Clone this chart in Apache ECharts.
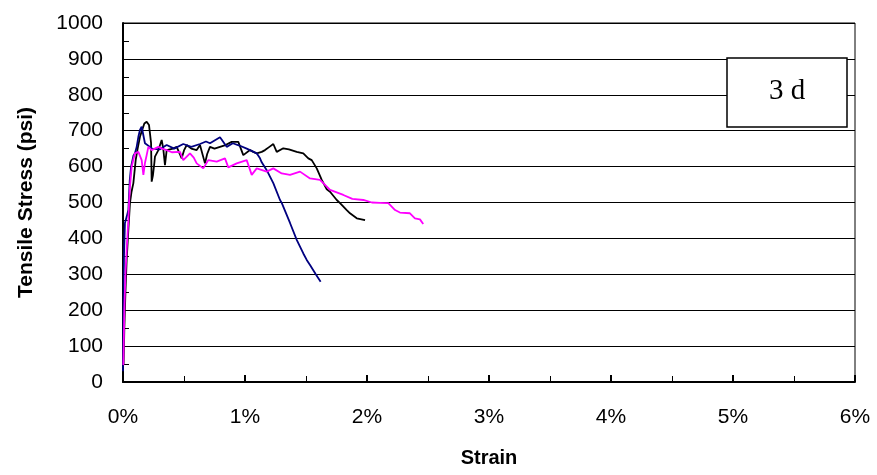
<!DOCTYPE html>
<html>
<head>
<meta charset="utf-8">
<script src="https://cdn.jsdelivr.net/npm/echarts@6/dist/echarts.min.js"></script>
<style>
  html, body { margin: 0; padding: 0; background: #fff; }
  #chart { width: 877px; height: 475px; }
</style>
</head>
<body>
<div id="chart"></div>
<script>
// strain in %, stress in psi
const blackStrain = [0.005, 0.011, 0.02, 0.03, 0.045, 0.057, 0.07, 0.085, 0.104, 0.12, 0.139, 0.16, 0.175, 0.194, 0.213, 0.23, 0.235, 0.245, 0.257, 0.262, 0.29, 0.317, 0.33, 0.344, 0.358, 0.372, 0.41, 0.44, 0.481, 0.5, 0.522, 0.56, 0.604, 0.631, 0.672, 0.69, 0.713, 0.75, 0.795, 0.84, 0.891, 0.945, 0.986, 1.041, 1.068, 1.096, 1.137, 1.164, 1.2, 1.232, 1.26, 1.314, 1.36, 1.424, 1.478, 1.519, 1.547, 1.588, 1.629, 1.67, 1.697, 1.752, 1.779, 1.834, 1.861, 1.916, 1.984]
const blackStress = [50, 150, 250, 340, 430, 498, 530, 554, 618, 650, 683, 705, 720, 725, 716, 666, 558, 575, 610, 628, 646, 674, 650, 604, 646, 641, 650, 655, 623, 645, 660, 650, 646, 660, 609, 635, 655, 650, 655, 660, 669, 669, 632, 646, 641, 637, 641, 646, 655, 663, 641, 651, 648, 641, 637, 623, 618, 595, 563, 537, 530, 507, 498, 479, 470, 456, 451]

const navyStrain = [0.0, 0.003, 0.008, 0.016, 0.03, 0.044, 0.055, 0.066, 0.071, 0.085, 0.098, 0.112, 0.126, 0.139, 0.153, 0.167, 0.18, 0.194, 0.24, 0.3, 0.358, 0.42, 0.494, 0.56, 0.631, 0.68, 0.713, 0.795, 0.85, 0.9, 0.959, 1.014, 1.041, 1.096, 1.123, 1.137, 1.178, 1.205, 1.232, 1.287, 1.301, 1.369, 1.424, 1.478, 1.506, 1.533, 1.58, 1.62]
const navyStress = [30, 200, 350, 443, 460, 479, 560, 599, 604, 630, 637, 655, 683, 702, 711, 708, 665, 660, 650, 648, 660, 650, 663, 655, 663, 670, 665, 682, 655, 665, 658, 650, 646, 637, 623, 612, 590, 572, 554, 507, 499, 443, 396, 358, 340, 326, 300, 279]

const magentaStrain = [0.003, 0.011, 0.02, 0.03, 0.044, 0.05, 0.057, 0.071, 0.085, 0.098, 0.126, 0.139, 0.153, 0.167, 0.18, 0.194, 0.208, 0.235, 0.26, 0.29, 0.32, 0.358, 0.4, 0.467, 0.494, 0.549, 0.58, 0.604, 0.658, 0.699, 0.768, 0.836, 0.863, 0.932, 1.014, 1.055, 1.096, 1.178, 1.232, 1.301, 1.369, 1.451, 1.533, 1.615, 1.697, 1.806, 1.88, 1.97, 2.04, 2.107, 2.175, 2.23, 2.27, 2.352, 2.393, 2.434, 2.461]
const magentaStress = [47, 200, 300, 368, 451, 500, 544, 600, 620, 637, 641, 646, 618, 577, 610, 632, 655, 646, 650, 655, 650, 646, 640, 641, 618, 637, 625, 609, 595, 618, 614, 623, 598, 609, 618, 577, 595, 586, 595, 581, 577, 586, 567, 563, 535, 521, 510, 507, 500, 499, 498, 479, 472, 470, 456, 453, 440]

const ageLabel = '3 d'

function pairs(xs, ys) {
  return xs.map((x, i) => [x, ys[i]])
}

const chart = echarts.init(document.getElementById('chart'))

function lineSeries(name, color, xs, ys) {
  return {
    name: name,
    type: 'line',
    data: pairs(xs, ys),
    showSymbol: false,
    animation: false,
    lineStyle: { color: color, width: 1.8 },
    itemStyle: { color: color }
  }
}

chart.setOption({
  grid: {
    left: 123,
    right: 22,
    top: 23,
    bottom: 93,
    show: true,
    borderColor: '#000',
    borderWidth: 1
  },
  xAxis: {
    type: 'value',
    min: 0,
    max: 6,
    interval: 1,
    name: 'Strain',
    nameLocation: 'middle',
    nameGap: 66,
    nameTextStyle: { fontFamily: 'Liberation Sans', fontSize: 20, fontWeight: 'bold', color: '#000' },
    axisLine: { show: true, lineStyle: { color: '#000', width: 2 } },
    axisTick: { show: true, inside: true, length: 7, lineStyle: { color: '#000', width: 2 } },
    minorTick: { show: true, splitNumber: 2, length: 6, lineStyle: { color: '#000', width: 1 } },
    splitLine: { show: false },
    axisLabel: {
      formatter: '{value}%',
      margin: 25,
      fontFamily: 'Liberation Sans',
      fontSize: 21,
      color: '#000'
    }
  },
  yAxis: {
    type: 'value',
    min: 0,
    max: 1000,
    interval: 100,
    name: 'Tensile Stress (psi)',
    nameLocation: 'middle',
    nameGap: 86,
    nameTextStyle: { fontFamily: 'Liberation Sans', fontSize: 21, fontWeight: 'bold', color: '#000' },
    axisLine: { show: true, lineStyle: { color: '#000', width: 2 } },
    axisTick: { show: true, inside: true, length: 6, lineStyle: { color: '#000' } },
    minorTick: { show: true, splitNumber: 2, length: 6, lineStyle: { color: '#000' } },
    splitLine: { show: true, lineStyle: { color: '#000', width: 1 } },
    axisLabel: {
      margin: 20,
      formatter: function (v) { return String(v) },
      fontFamily: 'Liberation Sans',
      fontSize: 21,
      color: '#000'
    }
  },
  series: [
    lineSeries('black', '#000000', blackStrain, blackStress),
    lineSeries('navy', '#000080', navyStrain, navyStress),
    lineSeries('magenta', '#FF00FF', magentaStrain, magentaStress)
  ],
  graphic: [
    {
      type: 'rect',
      x: 727,
      y: 58,
      shape: { width: 120, height: 69 },
      style: { fill: '#fff', stroke: '#000', lineWidth: 1.5 },
      z: 100
    },
    {
      type: 'text',
      x: 787,
      y: 91,
      style: {
        text: ageLabel,
        align: 'center',
        verticalAlign: 'middle',
        font: '29px "Liberation Serif"',
        fill: '#000'
      },
      z: 101
    }
  ]
})
</script>
</body>
</html>
